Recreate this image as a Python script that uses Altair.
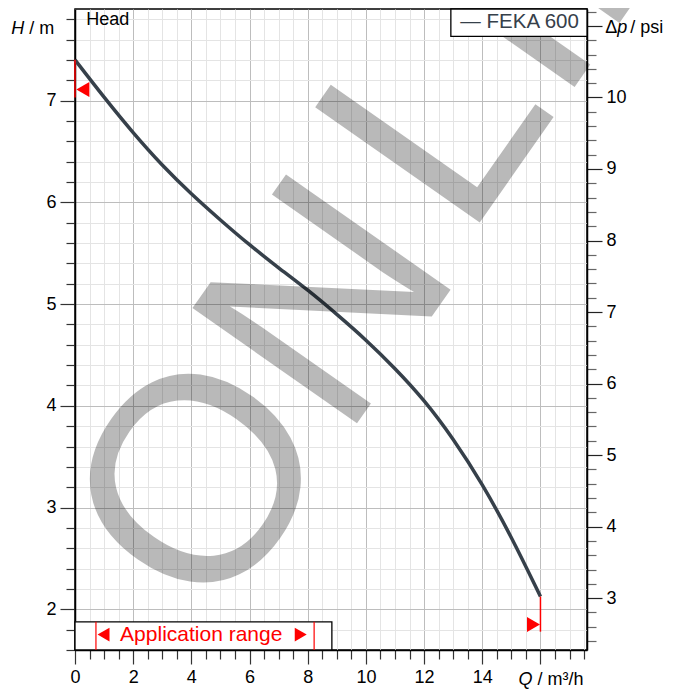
import altair as alt
import pandas as pd

FONT = "Liberation Sans"

# ---------------- data ----------------
flow_q = [0, 1, 2, 3, 4, 5, 6, 7, 8, 9, 10, 11, 12, 13, 14, 15, 16]
head_h = [7.40, 7.03, 6.68, 6.36, 6.08, 5.825, 5.58, 5.355, 5.14, 4.90,
          4.65, 4.37, 4.06, 3.68, 3.235, 2.715, 2.125]
series_name = "FEKA 600"

x_domain = [0, 17.6]
h_domain = [1.6, 7.9]
psi_per_m = 1.4223

x_ticks = [0, 0.5, 1, 1.5, 2, 2.5, 3, 3.5, 4, 4.5, 5, 5.5, 6, 6.5, 7, 7.5, 8, 8.5,
           9, 9.5, 10, 10.5, 11, 11.5, 12, 12.5, 13, 13.5, 14, 14.5, 15, 15.5,
           16, 16.5, 17, 17.5]
h_ticks = [1.6, 1.8, 2.0, 2.2, 2.4, 2.6, 2.8, 3.0, 3.2, 3.4, 3.6, 3.8, 4.0, 4.2,
           4.4, 4.6, 4.8, 5.0, 5.2, 5.4, 5.6, 5.8, 6.0, 6.2, 6.4, 6.6, 6.8, 7.0,
           7.2, 7.4, 7.6, 7.8]
psi_ticks = [2.4, 2.6, 2.8, 3.0, 3.2, 3.4, 3.6, 3.8, 4.0, 4.2, 4.4, 4.6, 4.8, 5.0,
             5.2, 5.4, 5.6, 5.8, 6.0, 6.2, 6.4, 6.6, 6.8, 7.0, 7.2, 7.4, 7.6, 7.8,
             8.0, 8.2, 8.4, 8.6, 8.8, 9.0, 9.2, 9.4, 9.6, 9.8, 10.0, 10.2, 10.4,
             10.6, 10.8, 11.0, 11.2]

# red range markers on the curve ends
end_q = [0.27, 15.76]
end_h = [7.11, 1.85]
end_dir = ["left", "right"]
end_line_q = [0, 16]
end_line_h1 = [7.40, 2.125]
end_line_h2 = [7.03, 1.78]

# application range box
app_box = {"q1": 0, "q2": 8.83, "h1": 1.6, "h2": 1.877}
app_lines_q = [0.72, 8.22]
app_tri_q = [0.98, 7.76]
app_tri_dir = ["left", "right"]
app_text = "Application range"

# legend box
leg_box = {"q1": 12.92, "q2": 17.6, "h1": 7.63, "h2": 7.9}

# ---------------- frames ----------------
curve = pd.DataFrame({"Q": flow_q, "H": head_h})
psi = pd.DataFrame({"Q": flow_q, "P": [h * psi_per_m for h in head_h]})
ends = pd.DataFrame({"Q": end_q, "H": end_h, "dir": end_dir})
end_lines = pd.DataFrame({"Q": end_line_q, "H": end_line_h1, "H2": end_line_h2})
app_rect = pd.DataFrame({"Q": [app_box["q1"]], "Q2": [app_box["q2"]],
                         "H": [app_box["h1"]], "H2": [app_box["h2"]]})
app_lines = pd.DataFrame({"Q": app_lines_q, "H": [app_box["h1"]] * 2,
                          "H2": [app_box["h2"]] * 2})
app_tris = pd.DataFrame({"Q": app_tri_q, "H": [1.752] * 2, "dir": app_tri_dir})
app_lbl = pd.DataFrame({"Q": [4.34], "H": [1.687], "t": [app_text]})
leg_rect = pd.DataFrame({"Q": [leg_box["q1"]], "Q2": [leg_box["q2"]],
                         "H": [leg_box["h1"]], "H2": [leg_box["h2"]]})
leg_lbl = pd.DataFrame({"Q": [17.32], "H": [7.713], "t": ["— " + series_name]})
one = pd.DataFrame({"a": [0]})

xs = alt.Scale(domain=x_domain, nice=False, zero=False)
ys = alt.Scale(domain=h_domain, nice=False, zero=False)

EVEN = "datum.value % 2 == 0"
x_axis = alt.Axis(
    values=x_ticks, title=None, grid=True,
    labelExpr=f"({EVEN} && datum.value < 15) ? format(datum.value, 'd') : ''",
    labelFont=FONT, labelFontSize=18, labelColor="black", labelPadding=4,
    labelOverlap=False, labelFlush=False,
    tickSize={"condition": {"test": EVEN, "value": 14}, "value": 9},
    tickColor="#333", tickWidth=1.2,
    gridColor={"condition": {"test": EVEN, "value": "#bdbdbd"}, "value": "#e4e4e4"},
    gridWidth=1, domainColor="black", domainWidth=1.5,
)
INT = "abs(datum.value - round(datum.value)) < 0.001"
y_axis = alt.Axis(
    values=h_ticks, title=None, grid=True,
    labelExpr=f"({INT}) ? format(round(datum.value), 'd') : ''",
    labelFont=FONT, labelFontSize=18, labelColor="black", labelPadding=4,
    labelOverlap=False, labelFlush=False,
    tickSize={"condition": {"test": INT, "value": 15}, "value": 9},
    tickColor="#333", tickWidth=1.2,
    gridColor={"condition": {"test": INT, "value": "#bdbdbd"}, "value": "#e4e4e4"},
    gridWidth=1, domainColor="black", domainWidth=1.5,
)
psi_axis = alt.Axis(
    values=psi_ticks, title=None, grid=False, orient="right",
    labelExpr=f"({INT}) && round(datum.value) < 11 ? format(round(datum.value), 'd') : ''",
    labelFont=FONT, labelFontSize=18, labelColor="black", labelPadding=4,
    labelOverlap=False, labelFlush=False,
    tickSize={"condition": {"test": INT, "value": 15}, "value": 9},
    tickColor={"condition": {"test": INT, "value": "#222"}, "value": "#666"},
    tickWidth=1.2, domainColor="black", domainWidth=1.5,
)

# every layer shares the same x axis definition so Vega-Lite merges it into one
X = lambda f="Q": alt.X(f"{f}:Q", scale=xs, axis=x_axis)
Y = lambda f="H": alt.Y(f"{f}:Q", scale=ys, axis=None)


def ptext(text, x, y, size, style="normal", color="black", align="left"):
    return alt.Chart(one).mark_text(
        text=text, font=FONT, fontSize=size, fontStyle=style, color=color,
        align=align, baseline="alphabetic",
    ).encode(x=alt.value(x), y=alt.value(y))


def wm(text, x, y):
    return alt.Chart(one).mark_text(
        text=text, font=FONT, fontSize=292, angle=305, color="black",
        opacity=0.27, align="left", baseline="alphabetic",
    ).encode(x=alt.value(x), y=alt.value(y))


watermark = [wm("ON", 138, 620), wm("LINE", 391, 233)]

line = alt.Chart(curve).mark_line(
    color="#36404a", strokeWidth=3.5, interpolate="basis"
).encode(x=X(), y=alt.Y("H:Q", scale=ys, axis=y_axis))

red_rules = alt.Chart(end_lines).mark_rule(color="red", strokeWidth=1.5).encode(
    x=X(), y=Y(), y2="H2:Q")

shape_scale = alt.Scale(domain=["left", "right"], range=["triangle-left", "triangle-right"])
end_marks = alt.Chart(ends).mark_point(filled=True, color="red", opacity=1, size=225).encode(
    x=X(), y=Y(), shape=alt.Shape("dir:N", scale=shape_scale, legend=None))

app_box_l = alt.Chart(app_rect).mark_rect(fill="white", stroke="black", strokeWidth=1.3).encode(
    x=X(), x2="Q2:Q", y=Y(), y2="H2:Q")
app_lines_l = alt.Chart(app_lines).mark_rule(color="red", strokeWidth=1.2).encode(
    x=X(), y=Y(), y2="H2:Q")
app_tris_l = alt.Chart(app_tris).mark_point(filled=True, color="red", opacity=1, size=190).encode(
    x=X(), y=Y(), shape=alt.Shape("dir:N", scale=shape_scale, legend=None))
app_text_l = alt.Chart(app_lbl).mark_text(
    font=FONT, fontSize=21, color="red", align="center", baseline="alphabetic"
).encode(x=X(), y=Y(), text="t:N")

leg_box_l = alt.Chart(leg_rect).mark_rect(fill="white", stroke="black", strokeWidth=1.3).encode(
    x=X(), x2="Q2:Q", y=Y(), y2="H2:Q")
leg_text_l = alt.Chart(leg_lbl).mark_text(
    font=FONT, fontSize=20.5, color="#36404a", align="right", baseline="alphabetic"
).encode(x=X(), y=Y(), text="t:N")

psi_layer = alt.Chart(psi).mark_line(opacity=0).encode(
    x=X(),
    y=alt.Y("P:Q", scale=alt.Scale(domain=[h_domain[0] * psi_per_m, h_domain[1] * psi_per_m],
                                   nice=False, zero=False), axis=psi_axis),
)

titles = [
    ptext("Head", 11.3, 16.4, 18),
    ptext("H", -63.7, 24.7, 18, style="italic"),
    ptext("/ m", -45.7, 24.7, 18),
    ptext("Δ", 530.3, 23.7, 18),
    ptext("p", 542.3, 23.7, 18, style="italic"),
    ptext("/ psi", 555.3, 23.7, 18),
    ptext("Q", 443.6, 675.5, 18, style="italic"),
    ptext("/ m³/h", 462.6, 675.5, 18),
]

chart = alt.layer(
    line, psi_layer, *watermark, red_rules, end_marks,
    app_box_l, app_lines_l, app_tris_l, app_text_l,
    leg_box_l, leg_text_l, *titles,
).resolve_scale(y="independent").properties(
    width=512, height=641,
    autosize=alt.AutoSizeParams(type="none"),
    padding={"left": 67, "top": 1, "right": 82, "bottom": 42},
    background="white",
).configure_view(stroke="black", strokeWidth=1.5)

chart.save("out.html", embed_options={"renderer": "svg", "actions": False})
